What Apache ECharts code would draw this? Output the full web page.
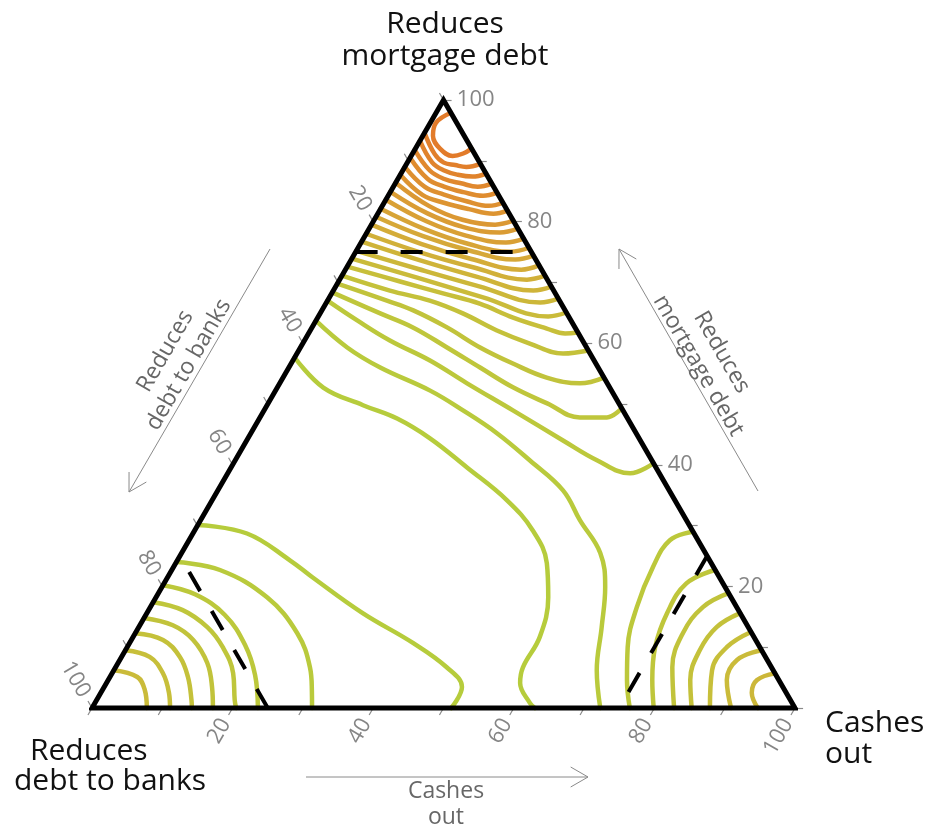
<!DOCTYPE html>
<html><head><meta charset="utf-8">
<script src="https://cdn.jsdelivr.net/npm/echarts@6/dist/echarts.min.js"></script>
<style>html,body{margin:0;padding:0;background:#fff}#c{width:927px;height:827px}</style>
</head><body><div id="c"></div>
<script>
// ---- data: every point is [cashes out %, reduces mortgage %] (debt to banks = 100 - both) ----
const tickValues = [0,10,20,30,40,50,60,70,80,90,100];
const tickLabels = [20,40,60,80,100];
const thresholds = {mortgage:75, banks:75, cash:75};

// contours around the "Reduces mortgage debt" corner (innermost first)
const mortgagePeak = [
  [[2.1,97.9],[0.8,96.25],[1.45,94.1],[3.5,92],[5.9,90.8],[7.2,91.2],[8,92]],
  [[0,94.6],[3.2,91.1],[5.2,89.7],[7,89.3],[8.75,89],[10.5,89.5]],
  [[0,93.3],[3.5,89.75],[5.9,88.4],[8.2,87.7],[10.4,87.4],[12.1,87.9]],
  [[0,91.8],[3.85,88.4],[6.5,87.05],[9.35,86.3],[12,85.75],[13.75,86.25]],
  [[0,90.5],[4.2,87.05],[7.2,85.75],[10.4,84.85],[13.5,84.25],[15.25,84.75]],
  [[0,89],[4.5,85.7],[7.85,84.45],[11.6,83.35],[15.15,82.6],[16.9,83.1]],
  [[0,87.7],[4.8,84.4],[8.5,83.1],[12.6,82.05],[16.45,81.3],[18.2,81.8]],
  [[0,86.4],[6.7,82.55],[12.55,80.3],[17.6,79.5],[19.85,80.15]],
  [[0,84.9],[7.05,81.35],[13.3,79.1],[18.9,78.2],[21.15,78.85]],
  [[0,83.6],[7.55,80.05],[14.35,77.7],[20.6,76.55],[22.8,77.2]],
  [[0,82.1],[7.95,78.75],[15.3,76.35],[22.05,75.05],[24.3,75.7]],
  [[0,80.8],[8.3,77.6],[16.05,75.25],[23.35,73.75],[25.6,74.4]],
  [[0,79.5],[8.75,76.3],[17.05,73.85],[25,72.1],[27.2,72.8]],
  [[0,78],[9.2,74.95],[18.1,72.45],[26.65,70.45],[28.9,71.1]],
  [[0,76.7],[9.75,73.65],[19.2,70.95],[28.45,68.65],[30.7,69.3]],
  [[0,75.2],[10.3,72.2],[20.4,69.35],[30.4,66.7],[32.65,67.35]],
  [[0,73.9],[11,70.75],[21.85,67.55],[32.7,64.4],[34.95,65.05]],
  [[0,72.6],[8.75,70.15],[16,68.15],[21.9,66.5],[27.8,64.2],[33.5,62.4],[36.5,61.6],[38.25,61.75]],
  [[0,71.1],[8.05,68.65],[14.55,67],[20.3,64.9],[26.55,62.1],[32.3,59.95],[37.85,58.3],[41.2,58.8]],
  [[0,69.8],[8.45,67],[13,65.4],[19.2,62.6],[25.55,59.3],[31.55,56.65],[37.5,54.35],[42.7,53.4],[45.65,54.35]],
  [[0,68.35],[8.55,64.9],[14.35,62.6],[20.85,59.3],[27.2,56],[33.5,52.75],[39.7,50.1],[45.5,47.8],[49.35,47.8],[50.7,49.3]],
  [[0,67],[5.85,63.75],[12.15,60.45],[19.5,57.15],[26.65,53.4],[35.4,48.95],[45,44],[51.45,40.75],[57.25,38.6],[59.75,40.25]]
];
const mortgageLevels = [23,22,21,20,19,18,17,16,15,14,13,12,11,10,9,8,7,6,5,4,3,2];

// contours around the "Reduces debt to banks" corner
const banksPeak = [
  [[0,24],[6.85,22.7],[15.8,18.2],[23.05,12.3],[27.65,6.7],[29.8,2.95],[31.3,0]],
  [[0,20.2],[5.3,18.7],[11.25,15.3],[16.6,10.35],[20.5,5.4],[23.6,0]],
  [[0,17.4],[4.85,16.1],[9.75,13.3],[13.6,10],[17.2,5.75],[19.65,1.3],[20.5,0]],
  [[0,14.8],[4.7,13.6],[8.8,11.2],[12.7,7.4],[15.35,3.45],[17.2,0]],
  [[0,12.3],[4.5,11.2],[8.3,8.4],[11.1,5.1],[13.5,1.3],[14.2,0]],
  [[0,9.5],[4,8.4],[7.2,5.75],[9.7,2.5],[11.1,0]],
  [[0,6.2],[3.9,5.1],[6,3],[7.8,0]]
];
const banksLevels = [1,2,3,4,5,6,7];

// contours around the "Cashes out" corner
const cashPeak = [
  [[71,29],[68.4,27.6],[68.2,23.2],[69.2,16.6],[71.2,10],[73.8,4.6],[76.5,0]],
  [[77.3,22.7],[74.3,20.5],[74,15.6],[75.1,10],[77.4,4.6],[79.9,0]],
  [[81.1,18.9],[78.6,16.6],[77.9,12.3],[79.2,6.7],[82.8,0]],
  [[84.4,15.6],[82.2,13.3],[81.7,9.5],[82.8,4.6],[85.3,0]],
  [[87.5,12.5],[85.3,10],[85.1,6.2],[87.9,0]],
  [[90.5,9.5],[87.8,7.9],[88,4.6],[90.9,0]],
  [[94.3,5.7],[92.3,4.6],[92.6,2.5],[94.7,0]]
];
const cashLevels = [2,3,4,5,6,7,8];

// low contours crossing the middle
const valleyLines = [
  [[0,30.1],[7.7,28.7],[16,24.3],[20.6,21.5],[30.7,15.6],[40.3,10.7],[47.1,6.7],[50.9,3.45],[51.1,0]],
  [[0,57.65],[6.55,52.7],[13.65,49.8],[19.6,47.6],[25.9,44.35],[33.5,39.6],[41.9,34.2],[48.1,29.2],[52.8,23.8],[55.8,18.2],[57.85,11.7],[57.95,6.7],[58.85,4.1],[61.9,0.8],[63,0]],
  [[0,63.7],[6.65,59.3],[13,56],[22,52.2],[28.3,48.95],[35,45.2],[41.95,40.7],[49.1,35.8],[53.95,30.9],[59.55,25.5],[63.05,19.9],[65.85,13.3],[68.7,6.2],[72.3,0]]
];
const valleyLevels = [0,0,1];

// ---- rendering ----
const S3 = Math.sqrt(3)/2;
function xy(p){ return [p[0] + p[1]/2, p[1]*S3]; }
const levelStops = [[0,[182,204,60]],[6,[199,191,58]],[12,[214,168,56]],[18,[222,144,48]],[23,[226,123,42]]];
function levelColor(l){
  for (let i=1;i<levelStops.length;i++){
    const [l0,c0]=levelStops[i-1], [l1,c1]=levelStops[i];
    if (l<=l1){ const t=(l-l0)/(l1-l0); return 'rgb('+c0.map((v,k)=>Math.round(v+(c1[k]-v)*t)).join(',')+')'; }
  }
  return 'rgb(226,123,42)';
}
const series = [];
function addContours(group, levels){
  group.forEach((pts,i)=>{
    series.push({type:'line', data:pts.map(xy), smooth:0.4, symbol:'none', silent:true, z:2, clip:false,
      lineStyle:{width:4.5, color:levelColor(levels[i]), cap:'round', join:'round'}});
  });
}
addContours(valleyLines, valleyLevels);
addContours(banksPeak, banksLevels);
addContours(cashPeak, cashLevels);
addContours(mortgagePeak, mortgageLevels);

// dashed thresholds
const dash = {width:4, color:'#000', type:[22,23], cap:'butt'};
series.push({type:'line', data:[[0,thresholds.mortgage],[100-thresholds.mortgage,thresholds.mortgage]].map(xy), symbol:'none', silent:true, z:8, clip:false, lineStyle:dash});
series.push({type:'line', data:[[100-thresholds.banks,0],[0,100-thresholds.banks]].map(xy), symbol:'none', silent:true, z:8, clip:false, lineStyle:dash});
series.push({type:'line', data:[[thresholds.cash,100-thresholds.cash],[thresholds.cash,0]].map(xy), symbol:'none', silent:true, z:8, clip:false, lineStyle:dash});

// triangle frame
series.push({type:'line', data:[[100,0],[0,100],[0,0],[100,0],[0,100]].map(xy), symbol:'none', silent:true, z:10, clip:false,
  lineStyle:{width:5, color:'#000', join:'miter', cap:'butt'}});

// ticks
const TL = 1.15;
const tickSegs = [];
tickValues.forEach(v=>{
  tickSegs.push({coords:[xy([v,0]), xy([v,-TL])]});                 // cashes out (bottom)
  tickSegs.push({coords:[xy([0,100-v]), xy([-TL,100-v+TL])]});      // debt to banks (left)
  tickSegs.push({coords:[xy([100-v,v]), xy([100-v+TL,v])]});        // mortgage (right)
});
series.push({type:'lines', coordinateSystem:'cartesian2d', data:tickSegs, silent:true, z:9, clip:false,
  lineStyle:{color:'#8a8a8a', width:1.2, opacity:1}});

const lblFont = {color:'#676767', fontSize:22, fontFamily:'"Open Sans", sans-serif'};
const LO = 2.0;
function labelSeries(data, rotate, align){
  return {type:'scatter', data, symbolSize:1, silent:true, z:9, clip:false,
    itemStyle:{color:'rgba(0,0,0,0)'},
    label:Object.assign({show:true, position:'inside', align, verticalAlign:'middle', rotate,
      formatter:p=>String(p.value[2])}, lblFont)};
}
series.push(labelSeries(tickLabels.map(v=>xy([v,-LO]).concat([v])), 60, 'right'));
series.push(labelSeries(tickLabels.map(v=>xy([-LO,100-v+LO]).concat([v])), -60, 'right'));
series.push(labelSeries(tickLabels.map(v=>xy([100-v+LO*0.95,v]).concat([v])), 0, 'left'));

// annotations (titles and direction arrows)
const gray = '#676767';
const F = '"Open Sans", sans-serif';
function arrow(x1,y1,x2,y2){
  const L=Math.hypot(x2-x1,y2-y1), bx=(x1-x2)/L, by=(y1-y2)/L, a=Math.PI/6, h=20;
  const r=(ang)=>[x2+h*(bx*Math.cos(ang)-by*Math.sin(ang)), y2+h*(bx*Math.sin(ang)+by*Math.cos(ang))];
  return [
    {type:'line', shape:{x1,y1,x2,y2}, style:{stroke:'#8a8a8a', lineWidth:1}, silent:true},
    {type:'polyline', shape:{points:[r(a),[x2,y2],r(-a)]}, style:{stroke:'#8a8a8a', lineWidth:1, fill:null}, silent:true}
  ];
}
function txt(x,y,text,size,color,align,rot,lh){
  return {type:'text', x, y, rotation:rot||0, silent:true,
    style:{text, font:size+'px '+F, fill:color, align, verticalAlign:'middle', textAlign:align, textVerticalAlign:'middle', lineHeight:lh}};
}
const graphic = [].concat(
  arrow(270,249,129,492),
  arrow(758,491,619,249),
  arrow(306,777,588,777),
  [
    txt(445,40,'Reduces\nmortgage debt',30,'#111','center',0,32),
    txt(825,739,'Cashes\nout',30,'#111','left',0,31),
    txt(30,751,'Reduces',30,'#111','left',0,32),
    txt(14,781,'debt to banks',30,'#111','left',0,32),
    txt(177,358,'Reduces\ndebt to banks',23,gray,'center',Math.PI/3,27),
    txt(710,359,'Reduces\nmortgage debt',23,gray,'center',-Math.PI/3,27),
    txt(446,804,'Cashes\nout',23,gray,'center',0,26)
  ]
);

const chart = echarts.init(document.getElementById('c'), null, {renderer:'canvas'});
chart.setOption({
  animation:false,
  backgroundColor:'#fff',
  grid:{left:92, right:132, top:100, bottom:119},
  xAxis:{type:'value', min:0, max:100, show:false},
  yAxis:{type:'value', min:0, max:100*S3, show:false},
  series,
  graphic
});
</script>
</body></html>
